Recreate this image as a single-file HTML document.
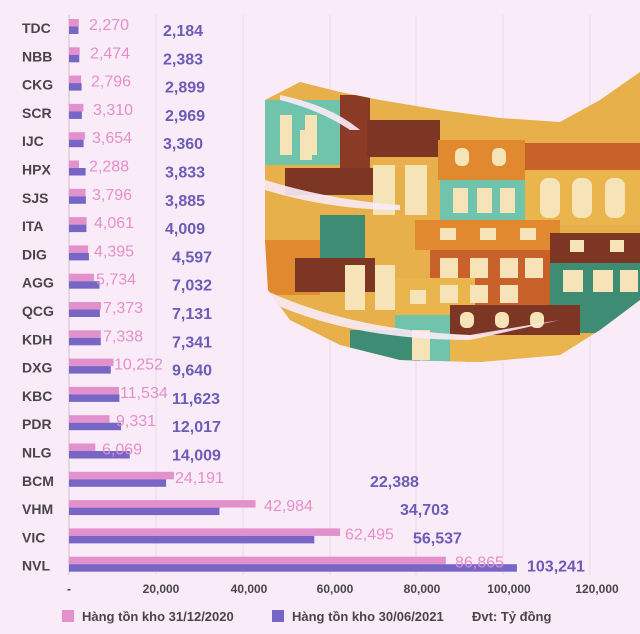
<!DOCTYPE html>
<html><head><meta charset="utf-8"><style>
html,body{margin:0;padding:0;background:#f9ebf8;}
svg{display:block}
.c{font-family:"Liberation Sans",sans-serif;font-weight:bold;font-size:14px;fill:#4a4548}
.p{font-family:"Liberation Sans",sans-serif;font-size:16px;fill:#e48fc8}
.u{font-family:"Liberation Sans",sans-serif;font-weight:bold;font-size:16px;fill:#6b5cb5}
.t{font-family:"Liberation Sans",sans-serif;font-weight:bold;font-size:12px;fill:#4a4548}
.l{font-family:"Liberation Sans",sans-serif;font-weight:bold;font-size:13px;fill:#4a4548}
</style></head><body>
<svg width="640" height="634" viewBox="0 0 640 634" xmlns="http://www.w3.org/2000/svg">
<rect width="640" height="634" fill="#f9ebf8"/>
<g stroke="#e6d8e4" stroke-width="1">
<line x1="156" y1="15" x2="156" y2="575"/><line x1="243" y1="15" x2="243" y2="575"/>
<line x1="330" y1="15" x2="330" y2="575"/><line x1="416" y1="15" x2="416" y2="575"/>
<line x1="503" y1="15" x2="503" y2="575"/><line x1="590" y1="15" x2="590" y2="575"/>
</g>
<line x1="69" y1="15" x2="69" y2="575" stroke="#cfc3d0" stroke-width="1"/>
<defs><clipPath id="blob"><path d="M265,100 L300,82 L340,92 L380,100 L440,110 L500,118 L560,122 L600,100 L640,72 L640,300 L600,330 L560,355 L480,362 L400,360 L340,345 L290,320 L268,290 L265,240 Z"/></clipPath></defs>
<g clip-path="url(#blob)">
<rect x="260" y="70" width="380" height="300" fill="#e8b04a"/>
<rect x="265" y="100" width="80" height="65" fill="#6fc4ab"/>
<rect x="340" y="95" width="30" height="75" fill="#8b3a26"/>
<rect x="367" y="120" width="73" height="37" fill="#7d3524"/>
<rect x="438" y="140" width="87" height="40" fill="#e0892f"/>
<rect x="525" y="143" width="115" height="27" fill="#c9622a"/>
<rect x="525" y="170" width="115" height="55" fill="#eab54d"/>
<rect x="440" y="180" width="85" height="40" fill="#6fc4ab"/>
<rect x="285" y="168" width="90" height="27" fill="#7d3524"/>
<rect x="415" y="220" width="145" height="30" fill="#e0892f"/>
<rect x="430" y="250" width="120" height="55" fill="#c9622a"/>
<rect x="550" y="233" width="90" height="30" fill="#7d3524"/>
<rect x="550" y="263" width="90" height="70" fill="#3d8c73"/>
<rect x="320" y="215" width="45" height="50" fill="#3d8c73"/>
<rect x="265" y="240" width="55" height="55" fill="#e0892f"/>
<rect x="295" y="258" width="80" height="34" fill="#7d3524"/>
<rect x="395" y="278" width="80" height="42" fill="#eab54d"/>
<rect x="395" y="315" width="75" height="50" fill="#6fc4ab"/>
<rect x="450" y="305" width="130" height="30" fill="#7d3524"/>
<rect x="450" y="335" width="130" height="30" fill="#eab54d"/>
<rect x="350" y="330" width="70" height="35" fill="#3d8c73"/>
<g fill="#f6e4b8">
<rect x="280" y="115" width="12" height="40"/><rect x="305" y="115" width="12" height="40"/>
<rect x="373" y="165" width="22" height="50"/><rect x="405" y="165" width="22" height="50"/>
<rect x="453" y="188" width="15" height="25"/><rect x="477" y="188" width="15" height="25"/><rect x="500" y="188" width="15" height="25"/>
<rect x="540" y="178" width="20" height="40" rx="8"/><rect x="572" y="178" width="20" height="40" rx="8"/><rect x="605" y="178" width="20" height="40" rx="8"/>
<rect x="455" y="148" width="14" height="18" rx="6"/><rect x="492" y="148" width="14" height="18" rx="6"/>
<rect x="440" y="258" width="18" height="20"/><rect x="470" y="258" width="18" height="20"/><rect x="500" y="258" width="18" height="20"/><rect x="525" y="258" width="18" height="20"/>
<rect x="440" y="285" width="18" height="18"/><rect x="470" y="285" width="18" height="18"/><rect x="500" y="285" width="18" height="18"/>
<rect x="563" y="270" width="20" height="22"/><rect x="593" y="270" width="20" height="22"/><rect x="620" y="270" width="18" height="22"/>
<rect x="345" y="265" width="20" height="45"/><rect x="375" y="265" width="20" height="45"/>
<rect x="440" y="228" width="16" height="12"/><rect x="480" y="228" width="16" height="12"/><rect x="520" y="228" width="16" height="12"/>
<rect x="570" y="240" width="14" height="12"/><rect x="610" y="240" width="14" height="12"/>
<rect x="410" y="290" width="16" height="14"/><rect x="412" y="330" width="18" height="30"/>
<rect x="460" y="312" width="14" height="16" rx="6"/><rect x="495" y="312" width="14" height="16" rx="6"/><rect x="530" y="312" width="14" height="16" rx="6"/>
<rect x="300" y="130" width="12" height="30"/><rect x="530" y="100" width="80" height="0"/>
</g>
<g fill="#f9ebf8" opacity="0.9">
<path d="M265,180 Q330,200 400,205 L400,210 Q330,210 265,190 Z"/>
<path d="M265,290 Q350,330 470,335 L560,320 L470,340 Q350,340 265,300 Z"/>
<path d="M280,95 Q330,105 360,130 L350,130 Q320,110 280,100 Z"/>
</g>
</g>
<g>
<!-- bars -->
<g fill="#e291cc">
<rect x="69" y="19" width="9.8" height="7.5"/><rect x="69" y="47.3" width="10.7" height="7.5"/>
<rect x="69" y="75.6" width="12.1" height="7.5"/><rect x="69" y="103.9" width="14.4" height="7.5"/>
<rect x="69" y="132.2" width="15.9" height="7.5"/><rect x="69" y="160.5" width="9.9" height="7.5"/>
<rect x="69" y="188.8" width="16.5" height="7.5"/><rect x="69" y="217.1" width="17.6" height="7.5"/>
<rect x="69" y="245.4" width="19.1" height="7.5"/><rect x="69" y="273.7" width="24.9" height="7.5"/>
<rect x="69" y="302" width="32" height="7.5"/><rect x="69" y="330.3" width="31.8" height="7.5"/>
<rect x="69" y="358.6" width="44.5" height="7.5"/><rect x="69" y="386.9" width="50" height="7.5"/>
<rect x="69" y="415.2" width="40.5" height="7.5"/><rect x="69" y="443.5" width="26.3" height="7.5"/>
<rect x="69" y="471.8" width="104.9" height="7.5"/><rect x="69" y="500.1" width="186.5" height="7.5"/>
<rect x="69" y="528.4" width="271.1" height="7.5"/><rect x="69" y="556.7" width="376.8" height="7.5"/>
</g>
<g fill="#7866c6">
<rect x="69" y="26.5" width="9.5" height="7.5"/><rect x="69" y="54.8" width="10.3" height="7.5"/>
<rect x="69" y="83.1" width="12.6" height="7.5"/><rect x="69" y="111.4" width="12.9" height="7.5"/>
<rect x="69" y="139.7" width="14.6" height="7.5"/><rect x="69" y="168" width="16.6" height="7.5"/>
<rect x="69" y="196.3" width="16.9" height="7.5"/><rect x="69" y="224.6" width="17.4" height="7.5"/>
<rect x="69" y="252.9" width="19.9" height="7.5"/><rect x="69" y="281.2" width="30.5" height="7.5"/>
<rect x="69" y="309.5" width="30.9" height="7.5"/><rect x="69" y="337.8" width="31.8" height="7.5"/>
<rect x="69" y="366.1" width="41.8" height="7.5"/><rect x="69" y="394.4" width="50.4" height="7.5"/>
<rect x="69" y="422.7" width="52.1" height="7.5"/><rect x="69" y="451" width="60.8" height="7.5"/>
<rect x="69" y="479.3" width="97.1" height="7.5"/><rect x="69" y="507.6" width="150.5" height="7.5"/>
<rect x="69" y="535.9" width="245.3" height="7.5"/><rect x="69" y="564.2" width="447.9" height="7.5"/>
</g>
</g>
<g class="c">
<text x="22" y="33">TDC</text><text x="22" y="61.3">NBB</text><text x="22" y="89.6">CKG</text>
<text x="22" y="117.9">SCR</text><text x="22" y="146.2">IJC</text><text x="22" y="174.5">HPX</text>
<text x="22" y="202.8">SJS</text><text x="22" y="231.1">ITA</text><text x="22" y="259.4">DIG</text>
<text x="22" y="287.7">AGG</text><text x="22" y="316">QCG</text><text x="22" y="344.3">KDH</text>
<text x="22" y="372.6">DXG</text><text x="22" y="400.9">KBC</text><text x="22" y="429.2">PDR</text>
<text x="22" y="457.5">NLG</text><text x="22" y="485.8">BCM</text><text x="22" y="514.1">VHM</text>
<text x="22" y="542.4">VIC</text><text x="22" y="570.7">NVL</text>
</g>
<g class="p">
<text x="89" y="30">2,270</text><text x="90" y="58.3">2,474</text><text x="91" y="86.6">2,796</text>
<text x="93" y="114.9">3,310</text><text x="92" y="143.2">3,654</text><text x="89" y="171.5">2,288</text>
<text x="92" y="199.8">3,796</text><text x="94" y="228.1">4,061</text><text x="94" y="256.4">4,395</text>
<text x="96" y="284.7">5,734</text><text x="103" y="313">7,373</text><text x="103" y="341.3">7,338</text>
<text x="114" y="369.6">10,252</text><text x="120" y="397.9">11,534</text><text x="116" y="426.2">9,331</text>
<text x="102" y="454.5">6,069</text><text x="175" y="482.8">24,191</text><text x="264" y="511.1">42,984</text>
<text x="345" y="539.4">62,495</text><text x="455" y="567.7">86,865</text>
</g>
<g class="u">
<text x="163" y="36">2,184</text><text x="163" y="64.3">2,383</text><text x="165" y="92.6">2,899</text>
<text x="165" y="120.9">2,969</text><text x="163" y="149.2">3,360</text><text x="165" y="177.5">3,833</text>
<text x="165" y="205.8">3,885</text><text x="165" y="234.1">4,009</text><text x="172" y="262.4">4,597</text>
<text x="172" y="290.7">7,032</text><text x="172" y="319">7,131</text><text x="172" y="347.3">7,341</text>
<text x="172" y="375.6">9,640</text><text x="172" y="403.9">11,623</text><text x="172" y="432.2">12,017</text>
<text x="172" y="460.5">14,009</text><text x="370" y="486.8">22,388</text><text x="400" y="515.1">34,703</text>
<text x="413" y="543.4">56,537</text><text x="527" y="571.7">103,241</text>
</g>
<g class="t" text-anchor="middle">
<text x="69" y="593">-</text><text x="161" y="593">20,000</text><text x="249" y="593">40,000</text>
<text x="335" y="593">60,000</text><text x="422" y="593">80,000</text><text x="509" y="593">100,000</text>
<text x="597" y="593">120,000</text>
</g>
<rect x="62" y="610" width="12" height="12" fill="#e291cc"/>
<text class="l" x="82" y="621">Hàng tồn kho 31/12/2020</text>
<rect x="272" y="610" width="12" height="12" fill="#7866c6"/>
<text class="l" x="292" y="621">Hàng tồn kho 30/06/2021</text>
<text class="l" x="472" y="621">Đvt: Tỷ đồng</text>
</svg>
</body></html>
